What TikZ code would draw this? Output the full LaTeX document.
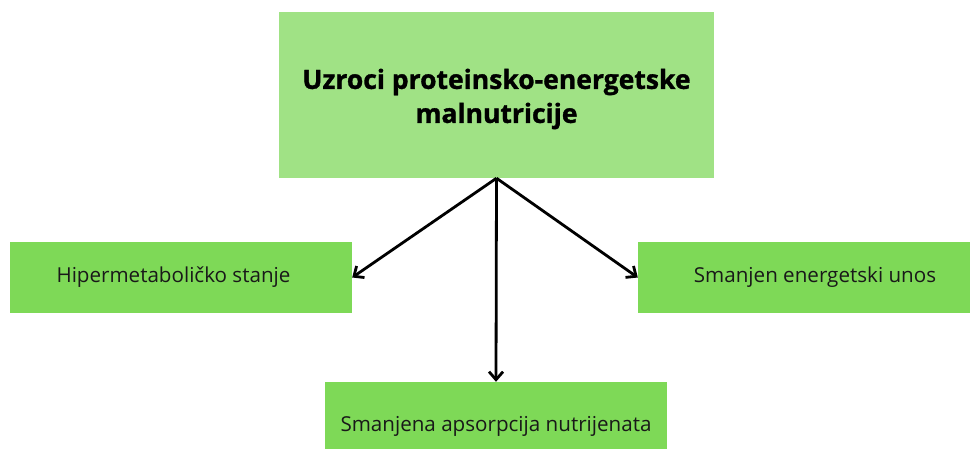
\documentclass[tikz,border=0pt]{standalone}
\usepackage{fontspec}
\setmainfont{Open Sans}
\newfontfamily\heavyfont{Open Sans}[BoldFeatures={FakeBold=1.2}]
\usepackage{tikz}
\usetikzlibrary{arrows.meta}
\definecolor{topgreen}{HTML}{A0E285}
\definecolor{boxgreen}{HTML}{7ED957}

\begin{document}
\begin{tikzpicture}[x=1pt,y=-1pt,
  causebox/.style={fill=boxgreen,minimum width=342pt,minimum height=71pt,inner sep=0pt,font=\fontsize{20.6}{24}\selectfont,text=black!90},
  link/.style={line width=2.8pt,-{Straight Barb[length=8pt,width=14pt,line width=2.8pt]}}]
\useasboundingbox (0,0) rectangle (970,448);
\node[fill=topgreen,minimum width=435pt,minimum height=166pt,inner sep=0pt,align=center,
  font=\fontsize{26.5}{34}\selectfont\heavyfont\bfseries] (uzroci) at (496.5,95)
  {};
\node[align=center,font=\fontsize{26.5}{34}\selectfont\heavyfont\bfseries] (naslov) at (496.5,99)
  {Uzroci proteinsko-energetske\\malnutricije};
\node[causebox] (hiper) at (181,277.5) {};
\node[font=\fontsize{20.6}{24}\selectfont,text=black!90] (hipertxt) at (173.5,277.5) {Hipermetaboličko stanje};
\node[causebox,minimum width=354pt] (unos) at (815,277.5) {Smanjen energetski unos};
\node[causebox,minimum height=88pt] (apsorp) at (496,426) {Smanjena apsorpcija nutrijenata};
\draw[link] (uzroci.south) -- (hiper.east);
\draw[link] (uzroci.south) -- (unos.west);
\draw[link] (uzroci.south) -- (apsorp.north);
\end{tikzpicture}
\end{document}
